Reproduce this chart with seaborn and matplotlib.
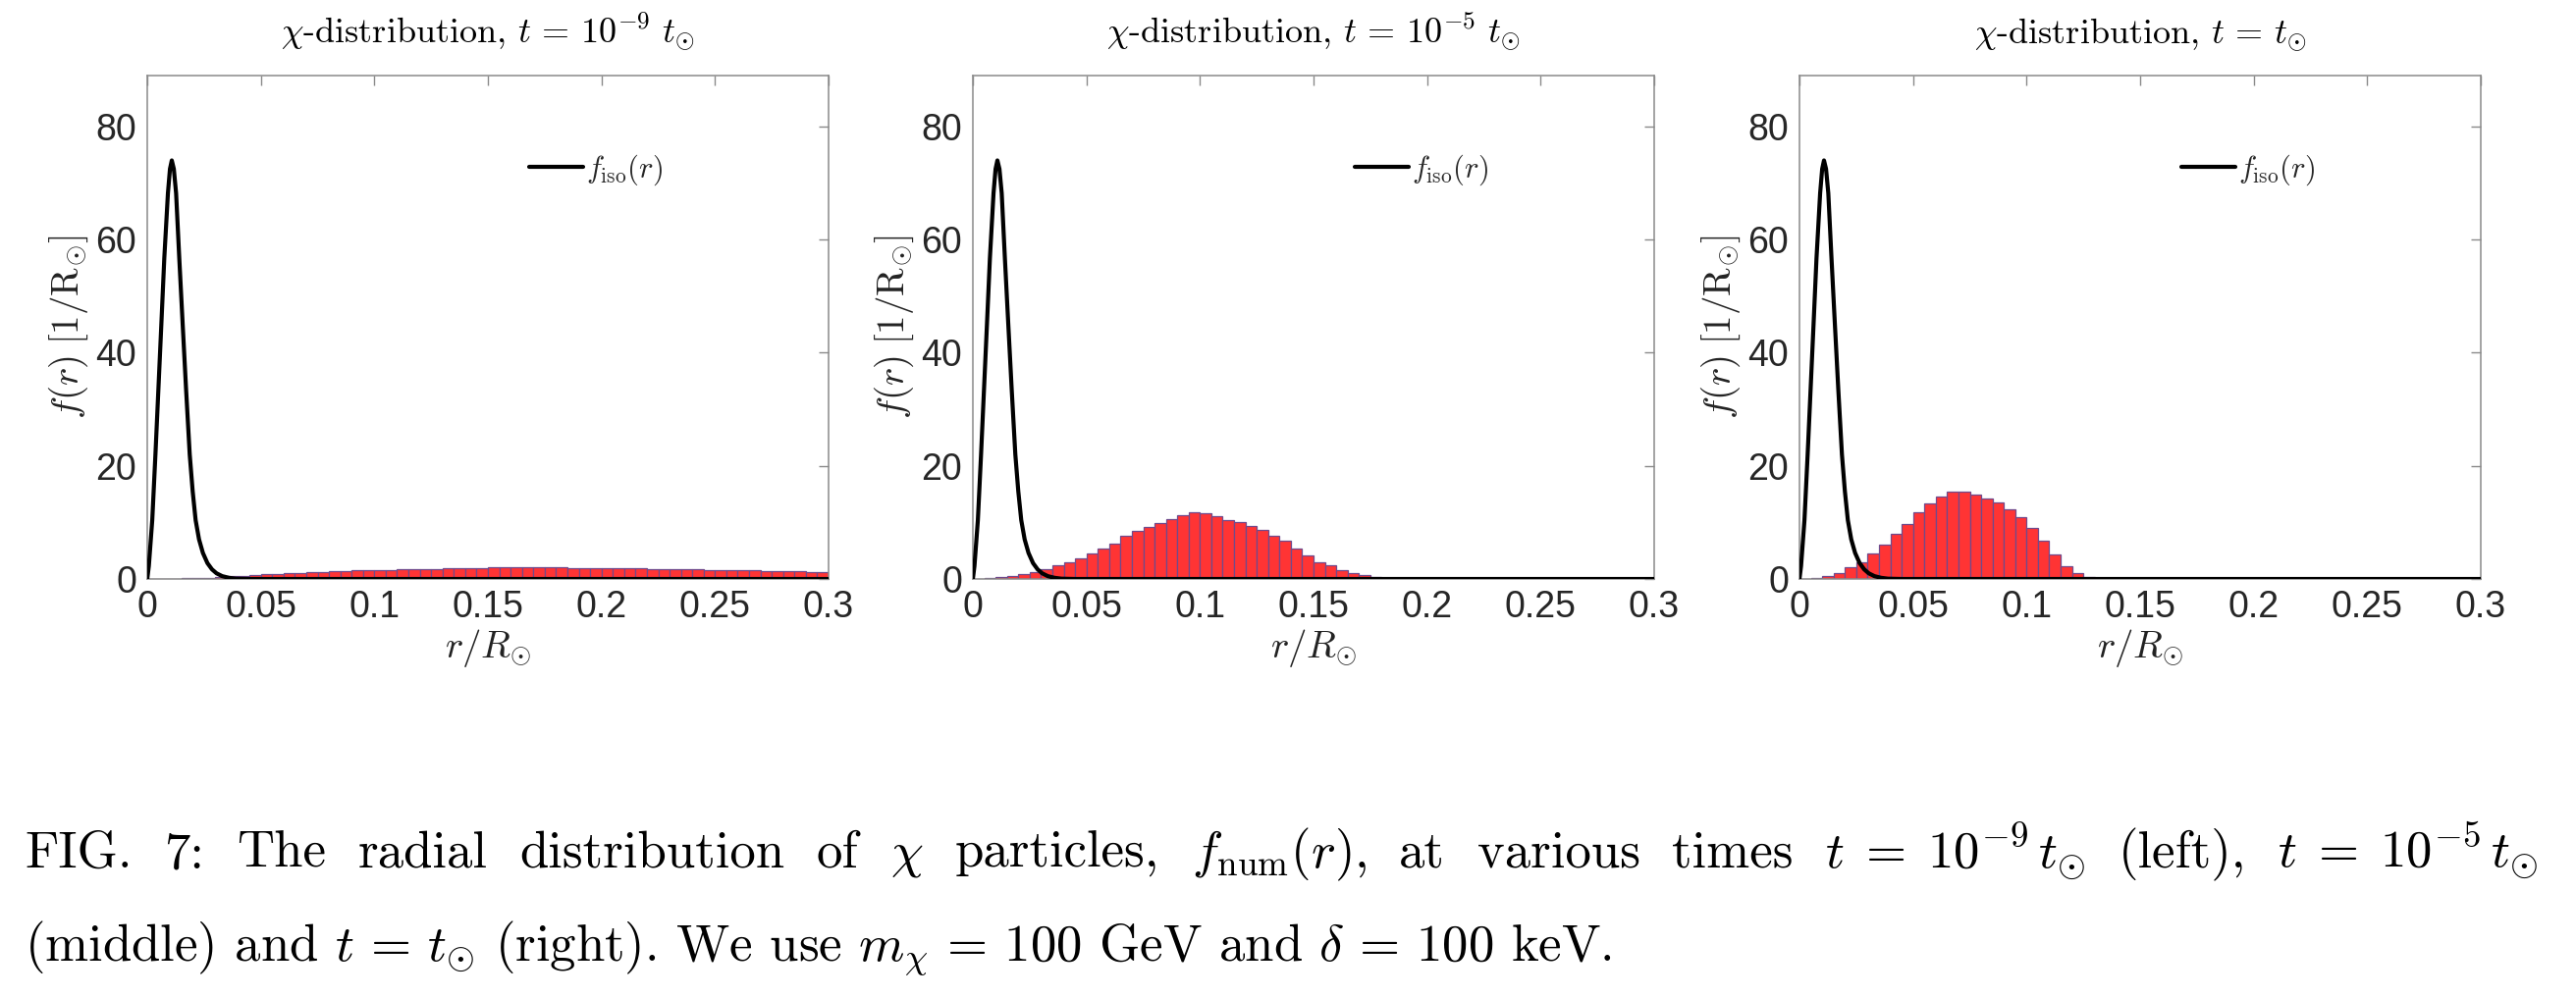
import numpy as np
import pandas as pd
import matplotlib
matplotlib.use("Agg")
import matplotlib.pyplot as plt
import seaborn as sns

# ---------------- data ----------------
titles = [r"$\chi$-distribution, $t\,=\,10^{-9}\ t_{\odot}$",
          r"$\chi$-distribution, $t\,=\,10^{-5}\ t_{\odot}$",
          r"$\chi$-distribution, $t\,=\,t_{\odot}$"]

# analytic isothermal profile f_iso(r)
r_iso = [0.0, 0.0007, 0.0022, 0.0036, 0.0049, 0.0062, 0.0075, 0.0091, 0.0100,
         0.0108, 0.0117, 0.0127, 0.0141, 0.0156, 0.0171, 0.0187, 0.0200,
         0.0213, 0.0228, 0.0245, 0.0265, 0.0285, 0.0305, 0.0330, 0.0360,
         0.0390, 0.0450, 0.3000]
f_iso = [0.0, 2.3, 10.4, 22.0, 33.5, 45.0, 56.7, 68.2, 72.5,
         74.0, 72.5, 68.2, 56.7, 45.0, 33.5, 22.0, 15.5,
         10.4, 7.0, 4.6, 2.8, 1.7, 1.0, 0.5, 0.2,
         0.05, 0.0, 0.0]

bin_width = 0.005
r_max = 0.3

hist_1e9 = [0.01, 0.02, 0.05, 0.10, 0.15, 0.22, 0.30, 0.45, 0.57, 0.68,
            0.80, 0.92, 1.00, 1.08, 1.15, 1.22, 1.32, 1.42, 1.50, 1.56,
            1.60, 1.64, 1.68, 1.72, 1.75, 1.80, 1.85, 1.90, 1.94, 1.96,
            2.00, 2.00, 2.02, 2.02, 2.02, 2.00, 2.00, 1.97, 1.95, 1.93,
            1.90, 1.88, 1.85, 1.83, 1.80, 1.77, 1.74, 1.71, 1.68, 1.64,
            1.60, 1.56, 1.52, 1.48, 1.44, 1.40, 1.36, 1.32, 1.28, 1.24]

hist_1e5 = [0.0, 0.10, 0.35, 0.50, 0.85, 1.25, 1.80, 2.35, 3.00, 3.70,
            4.50, 5.30, 6.30, 7.60, 8.50, 9.20, 9.85, 10.6, 11.2, 11.75,
            11.6, 11.1, 10.4, 10.0, 9.45, 8.65, 7.70, 6.70, 5.45, 4.10,
            3.00, 2.40, 1.60, 1.10, 0.70, 0.40, 0.10, 0.0, 0.0, 0.0,
            0.0, 0.0, 0.0, 0.0, 0.0, 0.0, 0.0, 0.0, 0.0, 0.0,
            0.0, 0.0, 0.0, 0.0, 0.0, 0.0, 0.0, 0.0, 0.0, 0.0]

hist_1 = [0.05, 0.20, 0.60, 1.10, 2.00, 3.00, 4.50, 6.00, 7.90, 9.80,
          11.75, 13.3, 14.55, 15.5, 15.4, 14.95, 14.3, 13.5, 12.4, 10.9,
          9.10, 6.70, 4.30, 2.30, 1.10, 0.30, 0.05, 0.0, 0.0, 0.0,
          0.0, 0.0, 0.0, 0.0, 0.0, 0.0, 0.0, 0.0, 0.0, 0.0,
          0.0, 0.0, 0.0, 0.0, 0.0, 0.0, 0.0, 0.0, 0.0, 0.0,
          0.0, 0.0, 0.0, 0.0, 0.0, 0.0, 0.0, 0.0, 0.0, 0.0]

hists = [hist_1e9, hist_1e5, hist_1]

x_ticks = [0, 0.05, 0.1, 0.15, 0.2, 0.25, 0.3]
x_ticklabels = ["0", "0.05", "0.1", "0.15", "0.2", "0.25", "0.3"]
y_ticks = [0, 20, 40, 60, 80]
y_ticklabels = ["0", "20", "40", "60", "80"]

# caption, first line is justified word by word
caption_1_words = ["FIG.", "7:", "The", "radial", "distribution", "of",
                   r"$\chi$", "particles,", r"$f_{\mathrm{num}}(r)$,", "at",
                   "various", "times", r"$t\;=\;10^{-9}\,t_{\odot}$", "(left),",
                   r"$t\;=\;10^{-5}\,t_{\odot}$"]
caption_2 = (r"(middle) and $t\,=\,t_{\odot}$ (right). We use $m_{\chi}\,=\,100$ GeV and "
             r"$\delta\,=\,100$ keV.")

# ---------------- styling ----------------
sns.set_theme(style="white")
plt.rcParams["font.family"] = ["Liberation Sans", "DejaVu Sans"]
plt.rcParams["mathtext.fontset"] = "cm"

W, H = 2624, 1016
fig = plt.figure(figsize=(W / 100, H / 100), dpi=100)

lefts = [150, 991, 1833]
ax_w, ax_bottom, ax_top = 694, 590, 77
spine_col = "#8a8a8a"
tick_col = "#262626"

for i, l in enumerate(lefts):
    ax = fig.add_axes([l / W, 1 - ax_bottom / H, ax_w / W, (ax_bottom - ax_top) / H])
    vals = hists[i]
    centers = [(k + 0.5) * bin_width for k in range(len(vals))]
    df = pd.DataFrame({"r": centers, "f": vals})
    sns.histplot(data=df, x="r", weights="f", binwidth=bin_width,
                 binrange=(0, r_max), stat="count",
                 color="#ff3434", alpha=1.0, edgecolor="#704a8c",
                 linewidth=0.9, ax=ax, zorder=1)
    dfl = pd.DataFrame({"r": r_iso, "f": f_iso})
    sns.lineplot(data=dfl, x="r", y="f", color="black", linewidth=3.0,
                 ax=ax, zorder=3, sort=False)
    line = ax.lines[-1]
    ax.legend(handles=[line], labels=[r"$f_{\mathrm{iso}}(r)$"],
              loc="center left", bbox_to_anchor=(0.5605, 0.813),
              frameon=False, fontsize=22, handlelength=1.8,
              handletextpad=0.1, borderpad=0, borderaxespad=0)

    ax.set_xlim(0, r_max)
    ax.set_ylim(0, 89)
    ax.set_xticks(x_ticks)
    ax.set_xticklabels(x_ticklabels)
    ax.set_yticks(y_ticks)
    ax.set_yticklabels(y_ticklabels)
    ax.tick_params(axis="both", which="both", direction="in", length=7,
                   width=1.0, color=spine_col, labelsize=27,
                   labelcolor=tick_col, top=True, right=True, pad=8)
    for s in ax.spines.values():
        s.set_color(spine_col)
        s.set_linewidth(1.1)
        s.set_visible(True)
    ax.set_title(titles[i], fontsize=26, family="cmr10", pad=24, color="black")
    ax.set_xlabel(r"$r/R_{\odot}$", fontsize=28, labelpad=1, color="#222222")
    ax.set_ylabel(r"$f(r)\;[1/\mathrm{R}_{\odot}]$", fontsize=28,
                  labelpad=4, color="#222222")
    ax.grid(False)

# ---- caption ----
cap_size = 38
x_start, x_end = 25, 2586
y1 = 1 - 884 / H
fig.canvas.draw()
renderer = fig.canvas.get_renderer()
word_texts = []
widths = []
for w in caption_1_words:
    t = fig.text(0, y1, w, fontsize=cap_size, family="cmr10",
                 ha="left", va="baseline", color="black")
    widths.append(t.get_window_extent(renderer).width)
    word_texts.append(t)
gap = (x_end - x_start - sum(widths)) / (len(widths) - 1)
xpos = x_start
for t, wd in zip(word_texts, widths):
    t.set_x(xpos / W)
    xpos += wd + gap

fig.text(x_start / W, 1 - 979 / H, caption_2, fontsize=cap_size, family="cmr10",
         ha="left", va="baseline", color="black")

fig.savefig("out.png", dpi=100, facecolor="white")
